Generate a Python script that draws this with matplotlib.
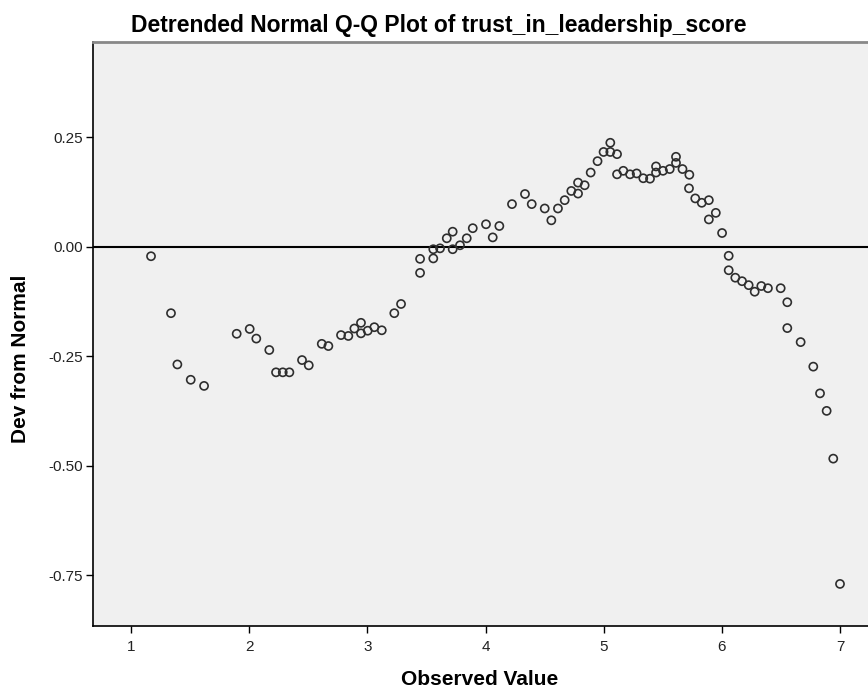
import matplotlib
matplotlib.use("Agg")
import matplotlib.pyplot as plt

observed = [1.169, 1.338, 1.392, 1.505, 1.618, 1.894, 2.004, 2.060, 2.170, 2.227,
            2.284, 2.340, 2.447, 2.504, 2.614, 2.670, 2.777, 2.839, 2.890, 2.946,
            2.946, 3.003, 3.059, 3.122, 3.228, 3.285, 3.446, 3.446, 3.558, 3.558,
            3.615, 3.672, 3.722, 3.722, 3.784, 3.841, 3.892, 4.004, 4.061, 4.117,
            4.224, 4.334, 4.391, 4.501, 4.557, 4.613, 4.670, 4.726, 4.783, 4.783,
            4.839, 4.890, 4.948, 4.999, 5.056, 5.056, 5.113, 5.113, 5.166, 5.223,
            5.279, 5.335, 5.392, 5.443, 5.443, 5.502, 5.559, 5.612, 5.612, 5.667,
            5.725, 5.722, 5.775, 5.830, 5.890, 5.890, 5.949, 6.002, 6.058, 6.058,
            6.114, 6.171, 6.227, 6.278, 6.334, 6.390, 6.498, 6.554, 6.554, 6.667,
            6.774, 6.831, 6.887, 6.943, 7.000]
deviation = [-0.022, -0.152, -0.269, -0.304, -0.318, -0.199, -0.188, -0.210, -0.236, -0.287,
             -0.287, -0.287, -0.259, -0.271, -0.222, -0.227, -0.202, -0.204, -0.187, -0.174,
             -0.198, -0.192, -0.184, -0.191, -0.152, -0.131, -0.060, -0.028, -0.027, -0.006,
             -0.004, 0.019, 0.034, -0.006, 0.003, 0.019, 0.042, 0.051, 0.021, 0.047,
             0.097, 0.120, 0.097, 0.087, 0.060, 0.087, 0.106, 0.127, 0.121, 0.146,
             0.140, 0.169, 0.195, 0.216, 0.237, 0.216, 0.211, 0.165, 0.173, 0.165,
             0.167, 0.156, 0.155, 0.183, 0.169, 0.173, 0.177, 0.205, 0.191, 0.177,
             0.164, 0.133, 0.110, 0.100, 0.106, 0.062, 0.077, 0.031, -0.021, -0.054,
             -0.071, -0.079, -0.088, -0.103, -0.090, -0.095, -0.095, -0.127, -0.186, -0.218,
             -0.274, -0.335, -0.375, -0.484, -0.770]

x_ticks = [1, 2, 3, 4, 5, 6, 7]
y_ticks = [0.25, 0.00, -0.25, -0.50, -0.75]
y_tick_labels = ["0.25", "0.00", "-0.25", "-0.50", "-0.75"]

plt.rcParams['font.family'] = ['Liberation Sans', 'DejaVu Sans']

fig = plt.figure(figsize=(8.68, 6.92), dpi=100)
ax = fig.add_axes([0.1066, 0.0954, 0.8934, 0.8439])
ax.set_facecolor('#f0f0f0')

ax.axhline(0, color='black', linewidth=1.5, zorder=1)
ax.scatter(observed, deviation, s=34, facecolors='none', edgecolors='#2e2e2e',
           linewidths=1.2, zorder=2)

ax.set_xlim(0.674, 7.237)
ax.set_ylim(-0.866, 0.467)
ax.set_xticks(x_ticks)
ax.set_xticklabels([str(t) for t in x_ticks])
ax.set_yticks(y_ticks)
ax.set_yticklabels(y_tick_labels)
ax.tick_params(axis='both', direction='out', length=5, width=1, color='black',
               labelsize=11, labelcolor='#222222')
ax.tick_params(axis='x', pad=5)
ax.tick_params(axis='y', pad=2)

for side in ['left', 'bottom']:
    ax.spines[side].set_color('black')
    ax.spines[side].set_linewidth(1.2)
ax.spines['top'].set_color('#888888')
ax.spines['top'].set_linewidth(2)
ax.spines['right'].set_visible(False)

fig.text(0.553, 0.0175, 'Observed Value', ha='center', va='center',
         fontsize=15, fontweight='bold')
fig.text(0.024, 0.481, 'Dev from Normal', ha='center', va='center', rotation=90,
         fontsize=15, fontweight='bold')
fig.text(0.506, 0.954, 'Detrended Normal Q-Q Plot of trust_in_leadership_score',
         ha='center', va='baseline', fontsize=16.5, fontweight='bold')

fig.savefig('out.png', dpi=100)
